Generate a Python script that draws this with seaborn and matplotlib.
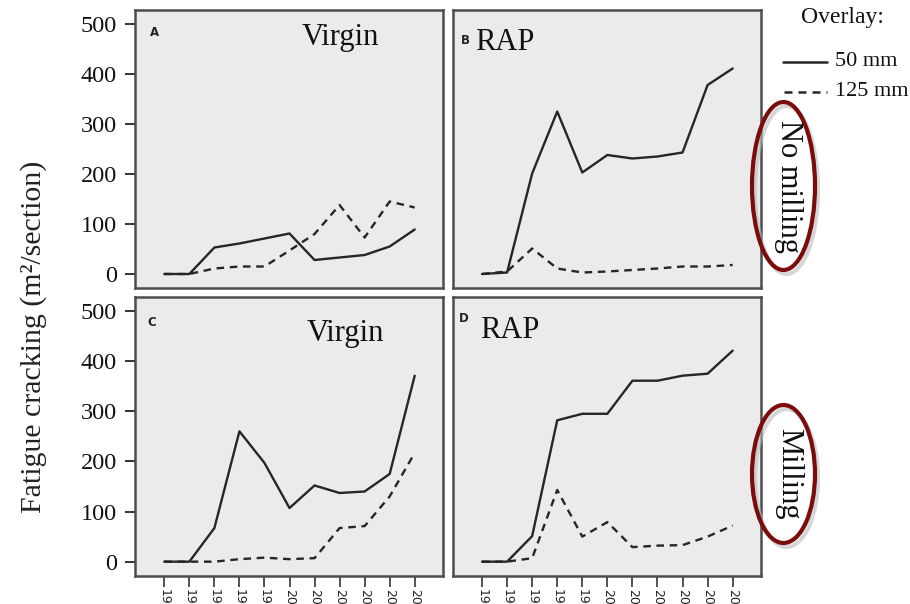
import matplotlib
matplotlib.use("Agg")
import matplotlib.pyplot as plt
import pandas as pd
import seaborn as sns
from matplotlib.patches import Ellipse
from matplotlib.lines import Line2D

# ---- data ----
years = [1995, 1996, 1997, 1998, 1999, 2000, 2001, 2002, 2003, 2004, 2005]
tick_labels = ["19", "19", "19", "19", "19", "20", "20", "20", "20", "20", "20"]
overlays = ["50 mm", "125 mm"]

a_virgin_nomill_50 = [0, 0, 53, 61, 71, 81, 28, 33, 38, 55, 89]
a_virgin_nomill_125 = [0, 0, 11, 15, 15, 47, 80, 138, 73, 145, 133]
b_rap_nomill_50 = [0, 3, 201, 325, 203, 238, 231, 235, 243, 378, 411]
b_rap_nomill_125 = [0, 5, 51, 11, 3, 5, 8, 11, 15, 15, 18]
c_virgin_mill_50 = [0, 0, 67, 260, 197, 107, 152, 137, 140, 175, 371]
c_virgin_mill_125 = [0, 0, 0, 5, 8, 5, 7, 67, 71, 130, 217]
d_rap_mill_50 = [0, 0, 51, 282, 295, 295, 361, 361, 371, 375, 421]
d_rap_mill_125 = [0, 0, 7, 143, 50, 79, 29, 32, 33, 50, 72]

panels = [
    ("A", "Virgin", a_virgin_nomill_50, a_virgin_nomill_125),
    ("B", "RAP", b_rap_nomill_50, b_rap_nomill_125),
    ("C", "Virgin", c_virgin_mill_50, c_virgin_mill_125),
    ("D", "RAP", d_rap_mill_50, d_rap_mill_125),
]

rows = []
for key, mat, s50, s125 in panels:
    for i, y in enumerate(years):
        rows.append({"panel": key, "overlay": "50 mm", "idx": i, "year": y, "value": s50[i]})
        rows.append({"panel": key, "overlay": "125 mm", "idx": i, "year": y, "value": s125[i]})
df = pd.DataFrame(rows)

# ---- style ----
sns.set_theme(style="white")
plt.rcParams["font.family"] = ["Liberation Serif", "DejaVu Serif"]

W, H = 910, 604
fig = plt.figure(figsize=(W / 100, H / 100), dpi=100)

def fx(px):
    return px / W

def fy(py):
    return 1 - py / H

boxes = {
    "A": (135, 10, 443, 288),
    "B": (452.7, 10, 761, 288),
    "C": (135, 297, 443, 575.7),
    "D": (452.7, 297, 761, 575.7),
}
title_pos = {"A": (340, 38), "B": (505, 42), "C": (345, 333), "D": (510, 330)}
letter_pos = {"A": (155, 33), "B": (465, 40), "C": (152, 323), "D": (464, 318)}

line_col = "#262626"
for key, mat, s50, s125 in panels:
    x0, y0, x1, y1 = boxes[key]
    ax = fig.add_axes([fx(x0), fy(y1), fx(x1 - x0), (y1 - y0) / H])
    ax.set_facecolor("#ebebeb")
    sub = df[df["panel"] == key]
    sns.lineplot(data=sub, x="idx", y="value", style="overlay", style_order=overlays,
                 dashes={"50 mm": "", "125 mm": (3.2, 2.4)}, color=line_col,
                 linewidth=1.7, legend=False, ax=ax)
    ax.set_xlim(-1.17, 11.13)
    ax.set_ylim(-28, 528)
    ax.set_xlabel("")
    ax.set_ylabel("")
    for sp in ax.spines.values():
        sp.set_color("#4d4d4d")
        sp.set_linewidth(1.8)
    ax.set_yticks([0, 100, 200, 300, 400, 500])
    ax.set_xticks(range(len(years)))
    if key in ("A", "C"):
        ax.tick_params(axis="y", left=True, length=7, width=1.4, color="#333333",
                       labelsize=17.5, pad=6, labelcolor="#111111")
    else:
        ax.tick_params(axis="y", left=False, labelleft=False)
    if key in ("C", "D"):
        ax.set_xticklabels(tick_labels, rotation=270, fontsize=9,
                           family="DejaVu Sans", color="#222222")
        ax.tick_params(axis="x", bottom=True, length=8, width=1.2, color="#333333", pad=1.5)
    else:
        ax.tick_params(axis="x", bottom=False, labelbottom=False)
    fig.text(fx(title_pos[key][0]), fy(title_pos[key][1]), mat, fontsize=22,
             ha="center", va="center", color="#111111")
    fig.text(fx(letter_pos[key][0]), fy(letter_pos[key][1]), key, fontsize=8.5,
             family="DejaVu Sans", weight="bold", ha="center", va="center", color="#222222")

# y label
fig.text(fx(34), fy(337), "Fatigue cracking (m\u00b2/section)", rotation=90,
         fontsize=21.5, ha="center", va="center", color="#222222")

# overlay legend
fig.text(fx(842), fy(18), "Overlay:", fontsize=17, ha="center", va="center", color="#111111")
fig.add_artist(Line2D([fx(783), fx(827)], [fy(62), fy(62)], color=line_col, lw=1.8))
fig.add_artist(Line2D([fx(784), fx(827)], [fy(92), fy(92)], color=line_col, lw=1.8,
                      dashes=(3.2, 2.4)))
fig.text(fx(835), fy(62), "50 mm", fontsize=16, ha="left", va="center", color="#111111")
fig.text(fx(835), fy(92), "125 mm", fontsize=16, ha="left", va="center", color="#111111")

# ellipses with row labels
for cx, cy, w, h, lab in [(783.5, 186, 63, 168, "No milling"), (783.5, 474, 63, 138, "Milling")]:
    shadow = Ellipse((fx(cx + 3), fy(cy + 4)), fx(w), h / H, transform=fig.transFigure,
                     fill=False, edgecolor="#bbbbbb", lw=3, alpha=0.6)
    fig.add_artist(shadow)
    e = Ellipse((fx(cx), fy(cy)), fx(w), h / H, transform=fig.transFigure,
                fill=False, edgecolor="#7b0c0c", lw=3)
    fig.add_artist(e)
    fig.text(fx(cx + 5), fy(cy), lab, rotation=270, fontsize=22, ha="center",
             va="center", color="#111111")

fig.savefig("out.png", dpi=100)
